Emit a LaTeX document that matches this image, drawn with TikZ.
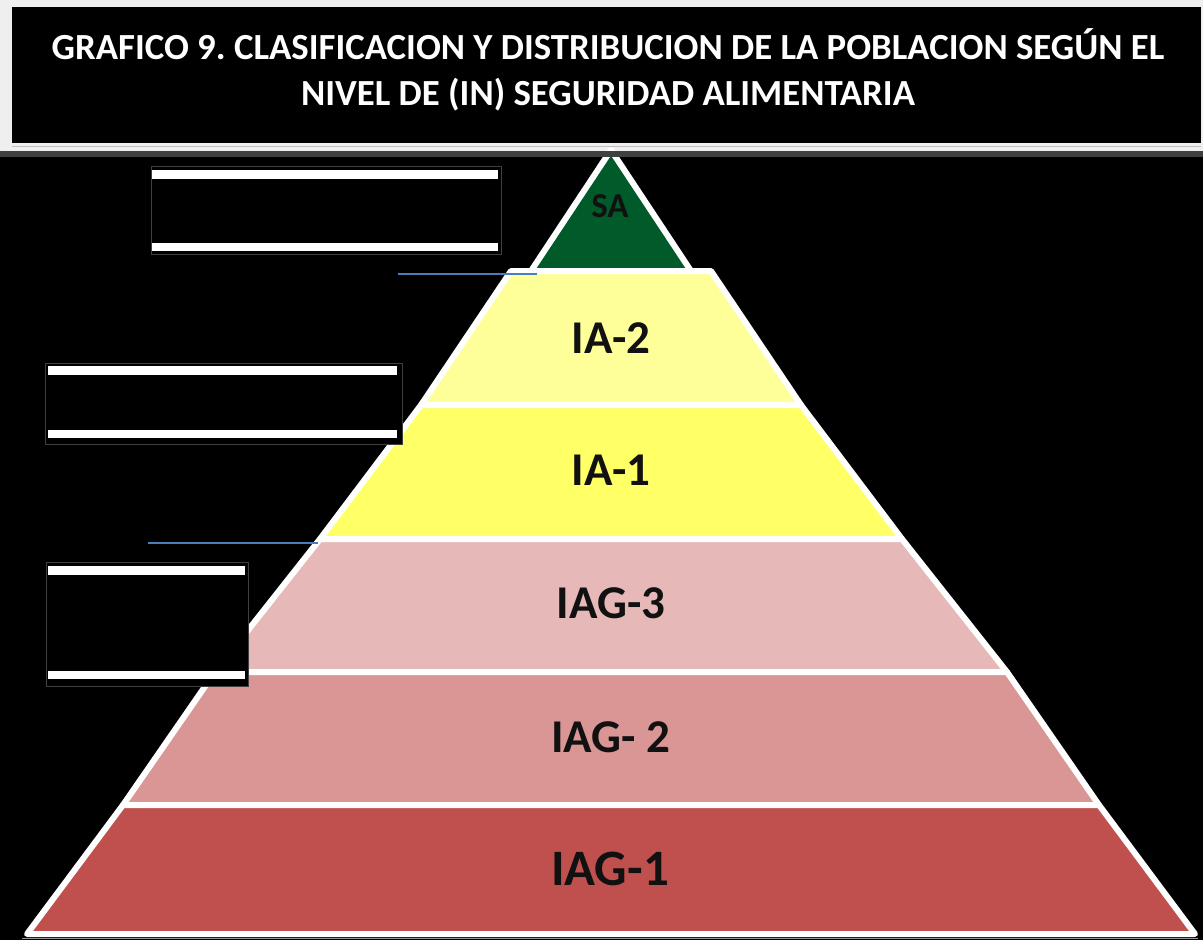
\documentclass[tikz,border=0pt]{standalone}
\usepackage{fontspec}
\setmainfont{Carlito}
\frenchspacing
\definecolor{sagreen}{HTML}{005A2A}
\definecolor{iatwo}{HTML}{FFFF99}
\definecolor{iaone}{HTML}{FFFF66}
\definecolor{iagthree}{HTML}{E6B9B8}
\definecolor{iagtwo}{HTML}{D99694}
\definecolor{iagone}{HTML}{C0504D}
\definecolor{leader}{HTML}{4A7EBB}
\definecolor{topgray}{HTML}{EFEFEF}
\definecolor{bandgray}{HTML}{404040}
\definecolor{labelink}{HTML}{111111}
\begin{document}
\begin{tikzpicture}[x=1pt,y=-1pt,
  layer/.style={draw=white,line width=6pt,line join=round},
  lbl/.style={font=\bfseries\fontsize{47}{47}\selectfont,text=labelink,inner sep=0pt},
  title/.style={font=\bfseries\fontsize{36.8}{36.8}\selectfont,text=white,inner sep=0pt},
  blackbox/.style={draw=black!75,line width=1pt,fill=black,inner sep=0pt},
  bar/.style={fill=white},
  leaderline/.style={draw=leader,line width=1.5pt}]
\useasboundingbox (0,0) rectangle (1203,940);
\fill[black] (0,0) rectangle (1203,940);
\fill[topgray] (0,0) rectangle (1203,151);
\fill[black] (12,7) rectangle (1201,143);
\draw[black!25,line width=1pt] (12,146) -- (1201,146);

% pyramid layers
\path[layer,fill=sagreen] (611,150) -- (531,271) -- (691,271) -- cycle;
\path[layer,fill=iatwo] (511,271) -- (711,271) -- (801,405) -- (421,405) -- cycle;
\path[layer,fill=iaone] (421,405) -- (801,405) -- (902,539) -- (320,539) -- cycle;
\path[layer,fill=iagthree] (320,539) -- (902,539) -- (1007,672) -- (215,672) -- cycle;
\path[layer,fill=iagtwo] (215,672) -- (1007,672) -- (1099,805) -- (123,805) -- cycle;
\path[layer,fill=iagone] (123,805) -- (1099,805) -- (1195,934) -- (27,934) -- cycle;
\draw[black!40,line width=1pt] (22,938.5) -- (1198,938.5);

\fill[bandgray] (0,151) rectangle (1203,157);

% labels
\node[lbl,font=\bfseries\fontsize{35}{35}\selectfont] (sa) at (610,206) {SA};
\node[lbl] (ia2) at (611,338) {IA-2};
\node[lbl] (ia1) at (611,470) {IA-1};
\node[lbl] (iag3) at (611,603) {IAG-3};
\node[lbl] (iag2) at (611,737) {IAG- 2};
\node[lbl,font=\bfseries\fontsize{51}{51}\selectfont] (iag1) at (610,869) {IAG-1};

% title
\node[title] (t1) at (608,44) {GRAFICO 9. CLASIFICACION Y DISTRIBUCION DE LA POBLACION SEGÚN EL};
\node[title] (t2) at (608,95) {NIVEL DE (IN) SEGURIDAD ALIMENTARIA};

% side boxes
\node[blackbox,minimum width=350pt,minimum height=88pt] (box1) at (326,210) {};
\fill[bar] (152,169.5) rectangle (498,179);
\fill[bar] (152,243) rectangle (498,251);
\node[blackbox,minimum width=357pt,minimum height=81pt] (box2) at (223.5,403.5) {};
\fill[bar] (48,366) rectangle (397,375);
\fill[bar] (48,430) rectangle (397,438);
\node[blackbox,minimum width=202pt,minimum height=124pt] (box3) at (147,624) {};
\fill[bar] (48,566) rectangle (245,575);
\fill[bar] (48,671) rectangle (245,679);

% leader lines
\coordinate (l1a) at (398,274);
\coordinate (l1b) at (537,274);
\coordinate (l2a) at (148,543);
\coordinate (l2b) at (318,543);
\draw[leaderline] (l1a) -- (l1b);
\draw[leaderline] (l2a) -- (l2b);
\end{tikzpicture}
\end{document}
